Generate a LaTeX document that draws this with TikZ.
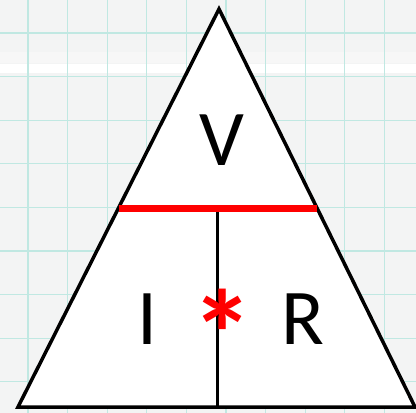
\documentclass[tikz,border=0pt]{standalone}
\usepackage{fontspec}
\newfontfamily\calfont{Carlito}
\usepackage{tikz}
\usetikzlibrary{calc,positioning}

\definecolor{paper}{RGB}{243,244,244}
\definecolor{gridline}{RGB}{192,232,226}
\definecolor{ohmred}{RGB}{255,0,0}

\begin{document}
\begin{tikzpicture}[x=1pt, y=-1pt,
    letter/.style={anchor=base, inner sep=0pt, font=\calfont\fontsize{79}{79}\selectfont},
    edge/.style={line width=3.5pt, line join=miter}]
    \useasboundingbox (0,0) rectangle (416,413);

    % Paper
    \fill[paper] (0,0) rectangle (416,413);
    \fill[black!3] (0,52) rectangle (416,63);
    \fill[white] (0,64) rectangle (416,73);
    \foreach \x in {0,...,9} \draw[gridline, line width=1.3pt] (28+39.6*\x,0) -- (28+39.6*\x,413);
    \foreach \y in {0,...,8} \draw[gridline, line width=1.3pt] (0,33+43.6*\y) -- (416,33+43.6*\y);

    % Triangle
    \coordinate (apex) at (219,9);
    \coordinate (bl) at (18,407);
    \coordinate (br) at (415,407);
    \filldraw[fill=white, edge] (apex) -- (bl) -- (br) -- cycle;

    % Dividers
    \coordinate (ml) at ($(apex)!0.5!(bl)$);
    \coordinate (mr) at ($(apex)!0.5!(br)$);
    \coordinate (mid) at ($(ml)!0.5!(mr)$);
    \draw[line width=3pt] (mid) -- (mid |- bl);
    \draw[ohmred, line width=7pt] (ml) -- (mr);

    % Letters
    \node (volt) [letter] at (222,165) {V};
    \node (amp) [letter] at (147.5,344) {I};
    \node (ohm) [letter] at (303,344) {R};
    \node (times) [inner sep=0pt, text=ohmred, font=\calfont\bfseries\fontsize{125}{125}\selectfont] at (223,334) {*};
\end{tikzpicture}
\end{document}
